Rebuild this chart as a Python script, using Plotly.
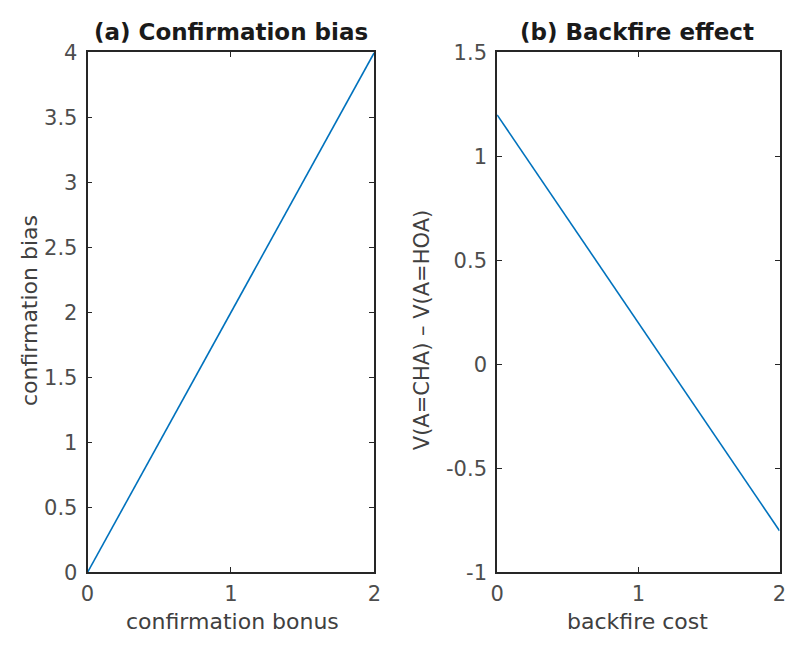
import plotly.graph_objects as go

# Data
bonus = [0, 1, 2]
conf_bias = [0, 2, 4]
cost = [0, 1, 2]
value_diff = [1.2, 0.2, -0.8]

bias_ticks = [0, 0.5, 1, 1.5, 2, 2.5, 3, 3.5, 4]
bias_labels = ["0", "0.5", "1", "1.5", "2", "2.5", "3", "3.5", "4"]
diff_ticks = [-1, -0.5, 0, 0.5, 1, 1.5]
diff_labels = ["-1", "-0.5", "0", "0.5", "1", "1.5"]
x_ticks = [0, 1, 2]
x_labels = ["0", "1", "2"]

W, H = 787, 645
FONT = "DejaVu Sans"
LINE_COLOR = "#0072BD"
AX_COLOR = "#262626"
TICK_COLOR = "#4d4d4d"

fig = go.Figure()
fig.add_trace(go.Scatter(x=bonus, y=conf_bias, mode="lines",
                         line=dict(color=LINE_COLOR, width=1.6),
                         xaxis="x", yaxis="y", showlegend=False))
fig.add_trace(go.Scatter(x=cost, y=value_diff, mode="lines",
                         line=dict(color=LINE_COLOR, width=1.6),
                         xaxis="x2", yaxis="y2", showlegend=False))

ydom = [1 - 582 / H, 1 - 42 / H]
x1dom = [82 / W, 374 / W]
x2dom = [499 / W, 786.5 / W]

def ax(**kw):
    d = dict(showline=True, linecolor=AX_COLOR, linewidth=1.8, mirror="ticks",
             ticks="inside", ticklen=5, tickcolor=AX_COLOR, tickwidth=1,
             showgrid=False, zeroline=False,
             tickfont=dict(family=FONT, size=21, color=TICK_COLOR),
             ticklabelstandoff=4)
    d.update(kw)
    return d

fig.update_layout(
    width=W, height=H,
    margin=dict(l=0, r=0, t=0, b=0),
    paper_bgcolor="white", plot_bgcolor="white",
    xaxis=ax(domain=x1dom, range=[0, 2], tickvals=x_ticks, ticktext=x_labels, anchor="y",
             ticklabelstandoff=2),
    yaxis=ax(domain=ydom, range=[0, 4], tickvals=bias_ticks, ticktext=bias_labels, anchor="x"),
    xaxis2=ax(domain=x2dom, range=[0, 2], tickvals=x_ticks, ticktext=x_labels, anchor="y2",
              ticklabelstandoff=2),
    yaxis2=ax(domain=ydom, range=[-1, 1.5], tickvals=diff_ticks, ticktext=diff_labels, anchor="x2"),
)

def ann(text, x, y, size, color, bold=False, angle=0):
    fig.add_annotation(text=("<b>%s</b>" % text) if bold else text,
                       x=x, y=y, xref="paper", yref="paper",
                       xanchor="center", yanchor="middle", showarrow=False,
                       textangle=angle, borderpad=0,
                       font=dict(family=FONT, size=size, color=color))

ann("(a) Confirmation bias", 228 / W, 1 - 21 / H, 23, "#1a1a1a", bold=True)
ann("(b) Backfire effect", 641 / W, 1 - 21 / H, 23, "#1a1a1a", bold=True)
ann("confirmation bonus", 230 / W, 1 - 633 / H, 22, "#404040")
ann("backfire cost", 642 / W, 1 - 633 / H, 22, "#404040")
ann("confirmation bias", 23 / W, 1 - 310 / H, 22, "#404040", angle=-90)
ann("V(A=CHA) \u2013 V(A=HOA)", 422 / W, 1 - 330 / H, 21, "#404040", angle=-90)

fig.write_html("out.html")
